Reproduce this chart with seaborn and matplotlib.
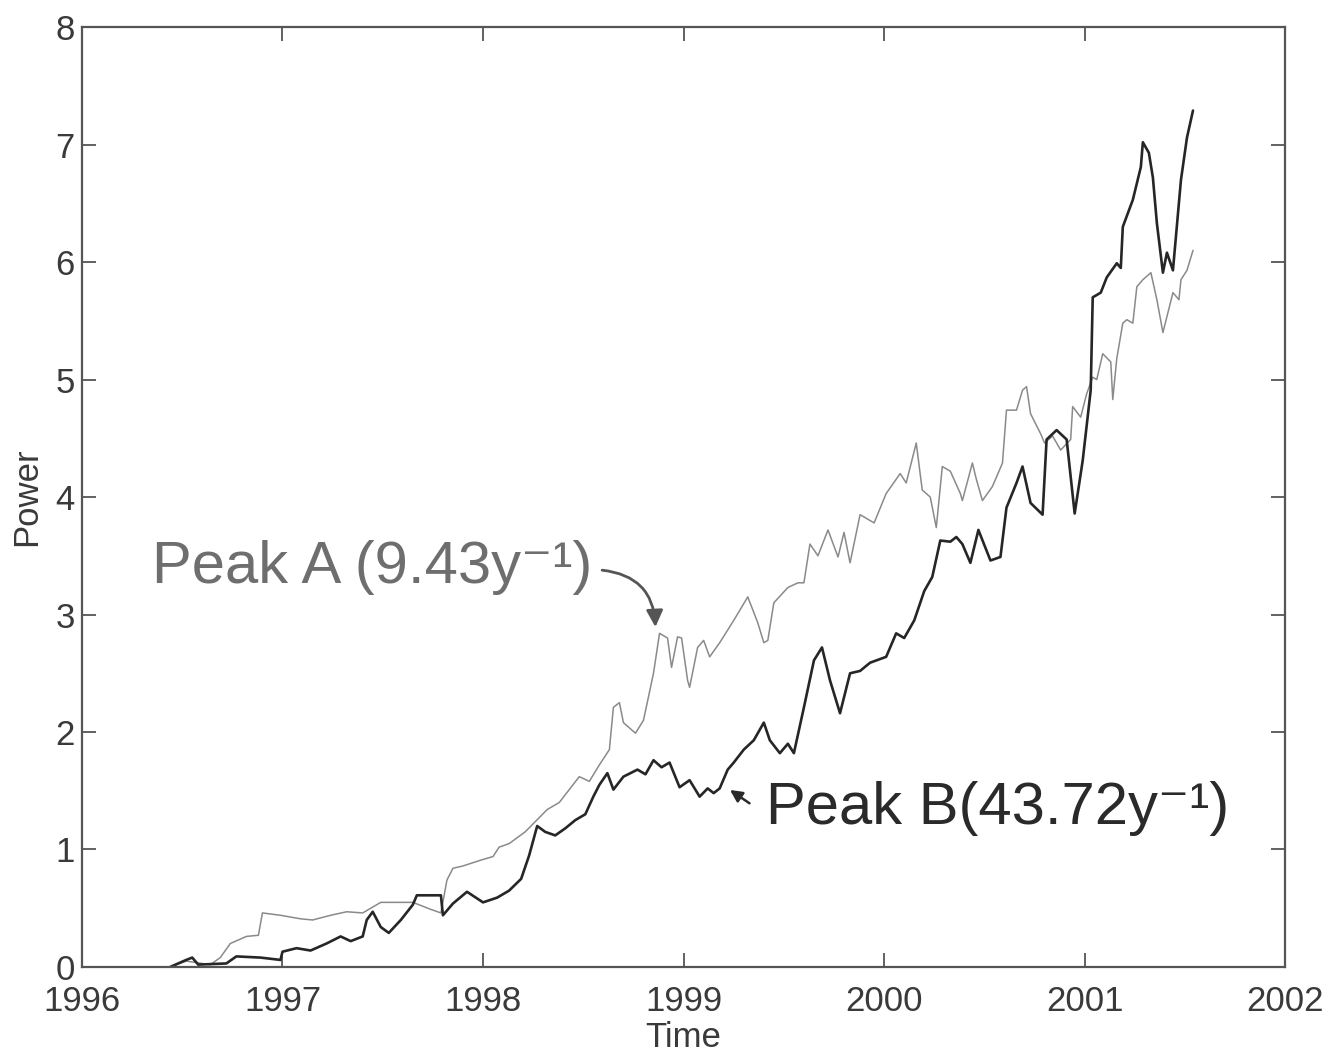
import matplotlib
matplotlib.use("Agg")
import matplotlib.pyplot as plt
import seaborn as sns
import pandas as pd

# ---------------- data ----------------
peak_a_years = [1996.44, 1996.52, 1996.56, 1996.64, 1996.69, 1996.74, 1996.82, 1996.88, 1996.90, 1996.99,
                1997.09, 1997.15, 1997.24, 1997.32, 1997.40, 1997.49, 1997.65, 1997.74, 1997.79, 1997.82,
                1997.85, 1997.90, 1997.99, 1998.05, 1998.08, 1998.13, 1998.21, 1998.32, 1998.38, 1998.48,
                1998.53, 1998.58, 1998.63, 1998.65, 1998.68, 1998.70, 1998.76, 1998.80, 1998.85, 1998.88,
                1998.92, 1998.94, 1998.97, 1998.99, 1999.02, 1999.03, 1999.07, 1999.10, 1999.13, 1999.18,
                1999.25, 1999.32, 1999.37, 1999.40, 1999.42, 1999.45, 1999.52, 1999.57, 1999.60, 1999.63,
                1999.67, 1999.72, 1999.77, 1999.80, 1999.83, 1999.88, 1999.95, 2000.01, 2000.08, 2000.11,
                2000.16, 2000.19, 2000.23, 2000.26, 2000.29, 2000.33, 2000.38, 2000.39, 2000.44, 2000.46,
                2000.49, 2000.54, 2000.59, 2000.61, 2000.66, 2000.69, 2000.71, 2000.73, 2000.78, 2000.80,
                2000.84, 2000.88, 2000.93, 2000.94, 2000.98, 2001.01, 2001.04, 2001.06, 2001.09, 2001.13,
                2001.14, 2001.16, 2001.19, 2001.21, 2001.24, 2001.26, 2001.29, 2001.33, 2001.36, 2001.39,
                2001.44, 2001.47, 2001.48, 2001.51, 2001.54]
peak_a_power = [0.00, 0.05, 0.04, 0.02, 0.08, 0.20, 0.26, 0.27, 0.46, 0.44,
                0.41, 0.40, 0.44, 0.47, 0.46, 0.55, 0.55, 0.49, 0.46, 0.74,
                0.84, 0.86, 0.91, 0.94, 1.02, 1.05, 1.15, 1.34, 1.40, 1.62,
                1.58, 1.72, 1.85, 2.21, 2.25, 2.08, 1.99, 2.10, 2.50, 2.84,
                2.80, 2.55, 2.81, 2.80, 2.44, 2.38, 2.72, 2.78, 2.64, 2.76,
                2.95, 3.15, 2.93, 2.76, 2.78, 3.10, 3.23, 3.27, 3.27, 3.60,
                3.50, 3.72, 3.49, 3.70, 3.44, 3.85, 3.78, 4.03, 4.20, 4.12,
                4.46, 4.06, 4.00, 3.74, 4.26, 4.22, 4.03, 3.97, 4.29, 4.15,
                3.97, 4.09, 4.29, 4.74, 4.74, 4.91, 4.94, 4.71, 4.54, 4.46,
                4.52, 4.40, 4.49, 4.77, 4.68, 4.88, 5.02, 5.00, 5.22, 5.15,
                4.83, 5.18, 5.48, 5.51, 5.48, 5.79, 5.85, 5.91, 5.68, 5.40,
                5.74, 5.68, 5.85, 5.93, 6.10]

peak_b_years = [1996.44, 1996.52, 1996.55, 1996.58, 1996.72, 1996.77, 1996.89, 1996.99, 1997.00, 1997.07,
                1997.14, 1997.22, 1997.29, 1997.34, 1997.40, 1997.42, 1997.45, 1997.49, 1997.53, 1997.59,
                1997.65, 1997.67, 1997.79, 1997.80, 1997.85, 1997.92, 1998.00, 1998.07, 1998.13, 1998.19,
                1998.23, 1998.27, 1998.31, 1998.36, 1998.41, 1998.46, 1998.51, 1998.55, 1998.58, 1998.62,
                1998.65, 1998.70, 1998.77, 1998.81, 1998.85, 1998.89, 1998.93, 1998.98, 1999.03, 1999.08,
                1999.12, 1999.15, 1999.18, 1999.22, 1999.25, 1999.30, 1999.35, 1999.40, 1999.43, 1999.48,
                1999.52, 1999.55, 1999.60, 1999.65, 1999.69, 1999.73, 1999.78, 1999.83, 1999.88, 1999.93,
                2000.01, 2000.06, 2000.10, 2000.15, 2000.20, 2000.24, 2000.28, 2000.33, 2000.36, 2000.39,
                2000.43, 2000.47, 2000.53, 2000.58, 2000.61, 2000.66, 2000.69, 2000.73, 2000.76, 2000.79,
                2000.81, 2000.86, 2000.91, 2000.95, 2000.99, 2001.03, 2001.04, 2001.08, 2001.11, 2001.16,
                2001.18, 2001.19, 2001.24, 2001.28, 2001.29, 2001.32, 2001.34, 2001.36, 2001.39, 2001.41,
                2001.44, 2001.48, 2001.51, 2001.54]
peak_b_power = [0.00, 0.06, 0.08, 0.02, 0.03, 0.09, 0.08, 0.06, 0.13, 0.16,
                0.14, 0.20, 0.26, 0.22, 0.26, 0.40, 0.47, 0.34, 0.29, 0.40,
                0.53, 0.61, 0.61, 0.44, 0.54, 0.64, 0.55, 0.59, 0.65, 0.75,
                0.95, 1.20, 1.15, 1.12, 1.18, 1.25, 1.30, 1.45, 1.55, 1.65,
                1.51, 1.62, 1.68, 1.64, 1.76, 1.70, 1.74, 1.53, 1.59, 1.45,
                1.52, 1.48, 1.52, 1.68, 1.74, 1.85, 1.93, 2.08, 1.93, 1.82,
                1.90, 1.82, 2.21, 2.61, 2.72, 2.44, 2.16, 2.50, 2.52, 2.59,
                2.64, 2.84, 2.80, 2.95, 3.20, 3.32, 3.63, 3.62, 3.66, 3.60,
                3.44, 3.72, 3.46, 3.49, 3.91, 4.12, 4.26, 3.95, 3.90, 3.85,
                4.49, 4.57, 4.49, 3.86, 4.31, 4.91, 5.70, 5.74, 5.87, 5.99,
                5.95, 6.30, 6.53, 6.81, 7.02, 6.93, 6.72, 6.33, 5.91, 6.08,
                5.93, 6.70, 7.06, 7.29]

x_ticks = [1996, 1997, 1998, 1999, 2000, 2001, 2002]
y_ticks = [0, 1, 2, 3, 4, 5, 6, 7, 8]

label_a = "Peak A (9.43y\u207b\u00b9)"
label_b = "Peak B(43.72y\u207b\u00b9)"

# ---------------- style ----------------
sns.set_theme(style="ticks")
plt.rcParams["font.family"] = ["Liberation Sans", "DejaVu Sans"]

df_a = pd.DataFrame({"Time": peak_a_years, "Power": peak_a_power})
df_b = pd.DataFrame({"Time": peak_b_years, "Power": peak_b_power})

fig = plt.figure(figsize=(13.43, 10.56), dpi=100)
ax = fig.add_axes([0.061, 0.0843, 0.896, 0.890])

sns.lineplot(data=df_a, x="Time", y="Power", ax=ax, sort=False, estimator=None,
             color="#8a8a8a", linewidth=1.1)
sns.lineplot(data=df_b, x="Time", y="Power", ax=ax, sort=False, estimator=None,
             color="#262626", linewidth=1.9)

ax.set_xlim(1996, 2002)
ax.set_ylim(0, 8)
ax.set_xticks(x_ticks)
ax.set_yticks(y_ticks)
ax.set_xticklabels([str(t) for t in x_ticks])
ax.set_yticklabels([str(t) for t in y_ticks])

for side in ["top", "right", "left", "bottom"]:
    ax.spines[side].set_visible(True)
    ax.spines[side].set_color("#555555")
    ax.spines[side].set_linewidth(1.6)

ax.tick_params(axis="both", which="major", direction="in", length=10, width=1.3,
               color="#555555", labelsize=25, labelcolor="#3a3a3a",
               top=True, right=True)
ax.tick_params(axis="x", pad=13)
ax.tick_params(axis="y", pad=5)

ax.set_xlabel("Time", fontsize=25, color="#3a3a3a")
ax.set_ylabel("Power", fontsize=25, color="#3a3a3a")
ax.xaxis.set_label_coords(0.5, -0.058)
ax.yaxis.set_label_coords(-0.032, 0.5)

# annotations
hand = ["Liberation Sans", "DejaVu Sans"]
ax.text(1996.35, 3.40, label_a, fontsize=43, color="#6e6e6e", va="center", ha="left",
        family=hand)
ax.annotate("", xy=(1998.86, 2.87), xytext=(1998.58, 3.38),
            arrowprops=dict(arrowstyle="-|>", color="#555555", lw=2.0,
                            connectionstyle="arc3,rad=-0.45", mutation_scale=25))
ax.text(1999.41, 1.35, label_b, fontsize=43, color="#2a2a2a", va="center", ha="left",
        family=hand)
ax.annotate("", xy=(1999.22, 1.52), xytext=(1999.34, 1.38),
            arrowprops=dict(arrowstyle="-|>", color="#2a2a2a", lw=1.8,
                            mutation_scale=18))

fig.savefig("out.png", dpi=100, facecolor="white")
